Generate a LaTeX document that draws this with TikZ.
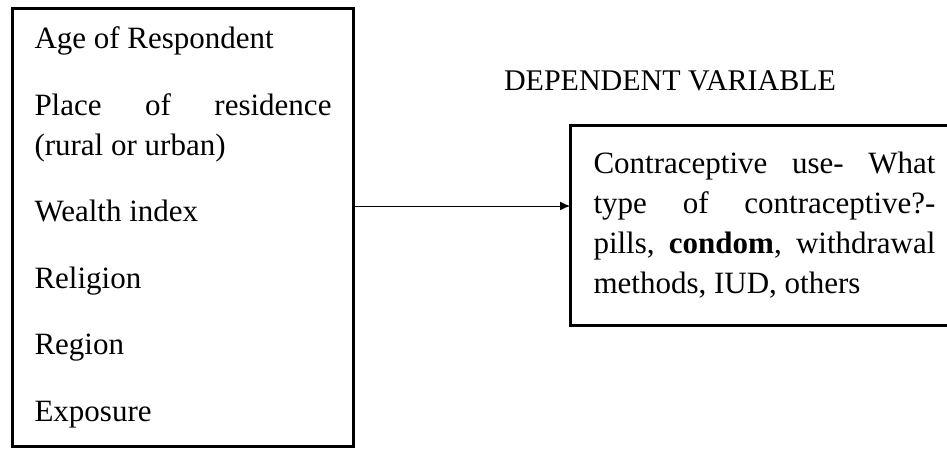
\documentclass[tikz,border=0pt]{standalone}
\usepackage{fontspec}
\setmainfont{Liberation Serif}
\usetikzlibrary{arrows.meta, positioning}

\begin{document}
\begin{tikzpicture}[x=0.4pt, y=0.4pt, >={Latex[length=4pt,width=3.6pt]},
    varbox/.style={inner ysep=0pt, align=justify,
                   font=\fontsize{12.4}{16}\selectfont},
    frame/.style={line width=1.2pt},
    heading/.style={font=\fontsize{12}{14}\selectfont, inner sep=0pt}]
    \clip (0,0) rectangle (947,-448);
    % independent variables
    \node[varbox, draw, frame, anchor=north west, text width=118.8pt, inner xsep=8.8pt,
          minimum height=175.2pt] (indep) at (11,-7)
        {Age of Respondent\\[10.6pt]
         Place of residence\linebreak (rural or urban)\\[10.6pt]
         Wealth index\\[10.6pt]
         Religion\\[10.6pt]
         Region\\[10.6pt]
         Exposure};
    % dependent variable (its right side is cut off by the page)
    \node[varbox, overlay, anchor=north west, text width=136.8pt, inner xsep=9.2pt,
          minimum height=79.6pt] (dep) at (570,-125)
        {Contraceptive use- What type of contraceptive?- pills, \textbf{condom}, withdrawal methods, IUD, others};
    \draw[frame] ([xshift=20pt]dep.north east) -- (dep.north west)
        -- (dep.south west) -- ([xshift=20pt]dep.south east);
    \node[heading, anchor=base] (title) at (670,-90) {DEPENDENT VARIABLE};
    \coordinate (lvl) at (460,-206);
    \draw[->, line width=0.4pt] (indep.east |- lvl) -- (dep.west |- lvl);
\end{tikzpicture}
\end{document}
